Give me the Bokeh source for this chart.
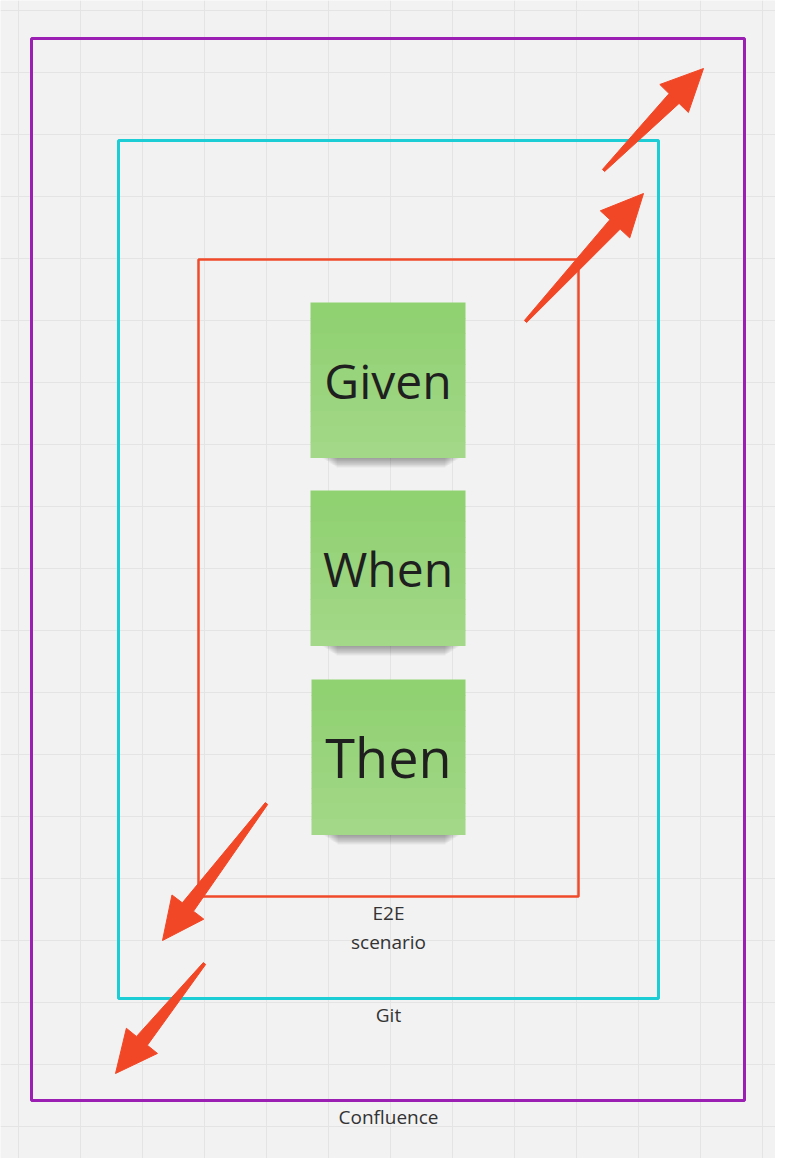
import numpy as np
from bokeh.plotting import figure
from bokeh.models import Range1d
from bokeh.core.properties import value
from bokeh.embed import file_html
from bokeh.resources import INLINE

# frames (left, right, top, bottom) in page pixels
frame_names = ["Confluence", "Git", "E2E scenario"]
frame_left = [31, 118, 198]
frame_right = [744, 658, 578]
frame_top = [38, 140, 259]
frame_bottom = [1100, 998, 896]
frame_colors = ["#9b1fb3", "#1ccdd6", "#f04a2b"]
frame_widths = [3, 3, 2.5]

# sticky notes
notes = ["Given", "When", "Then"]
note_left = [310, 310, 311]
note_right = [465, 465, 465]
note_top = [302, 490, 679]
note_bottom = [457, 645, 834]
note_sizes = ["48px", "48px", "54px"]

# frame labels
label_text = ["E2E", "scenario", "Git", "Confluence"]
label_x = [388, 388, 388, 388]
label_y = [912, 941, 1014, 1116]

# arrows: tail -> head
arrow_x0 = [603, 525, 266, 204]
arrow_y0 = [170, 321, 803, 963]
arrow_x1 = [703, 643, 162, 115]
arrow_y1 = [68, 193, 940, 1073]

p = figure(width=775, height=1158, output_backend="svg", toolbar_location=None,
           x_range=Range1d(0, 775), y_range=Range1d(1158, 0),
           min_border=0, background_fill_color="#f2f2f2", border_fill_color="#f2f2f2",
           outline_line_color=None)
p.axis.visible = False
p.grid.visible = False

gx = np.arange(18, 790, 62)
gy = np.arange(10, 1170, 62)
p.segment(x0=gx, y0=0, x1=gx, y1=1174, line_color="#e4e4e4", line_width=1)
p.segment(x0=0, y0=gy, x1=791, y1=gy, line_color="#e4e4e4", line_width=1)

for l, r, t, b, c, w in zip(frame_left, frame_right, frame_top, frame_bottom, frame_colors, frame_widths):
    p.quad(left=l, right=r, top=t, bottom=b, fill_color=None, line_color=c, line_width=w)

top_c = np.array([0x90, 0xd1, 0x71])
bot_c = np.array([0xa2, 0xd8, 0x88])
for l, r, t, b, name, fs in zip(note_left, note_right, note_top, note_bottom, notes, note_sizes):
    # soft shadow
    for k in range(8):
        p.quad(left=l + 12 + k * 2, right=r - 6 - k * 2, top=b - 4, bottom=b + 1 + k * 1.3,
               fill_color="#000000", fill_alpha=0.05, line_color=None)
    h = (b - t) / 10
    for k in range(10):
        c = top_c + (bot_c - top_c) * k / 9
        p.quad(left=l, right=r, top=t + k * h, bottom=t + (k + 1) * h + 0.5,
               fill_color="#%02x%02x%02x" % tuple(int(v) for v in c), line_color=None)
    p.text(x=[(l + r) / 2], y=[(t + b) / 2], text=[name], text_align="center",
           text_baseline="middle", text_font=value("Open Sans"), text_font_size=fs,
           text_color="#1f1f1f")

p.text(x=label_x, y=label_y, text=label_text, text_align="center", text_baseline="middle",
       text_font=value("Open Sans"), text_font_size="19px", text_color="#333333")

xs, ys = [], []
for x0, y0, x1, y1 in zip(arrow_x0, arrow_y0, arrow_x1, arrow_y1):
    d = np.array([x1 - x0, y1 - y0], dtype=float)
    u = d / np.hypot(*d)
    n = np.array([-u[1], u[0]])
    a = np.array([x0, y0], float)
    tip = np.array([x1, y1], float)
    base = tip - u * 42
    pts = [a + n * 1.5, base + n * 7, base + n * 20, tip, base - n * 20, base - n * 7, a - n * 1.5]
    xs.append([q[0] for q in pts])
    ys.append([q[1] for q in pts])
p.patches(xs, ys, fill_color="#f24726", line_color="#f24726", line_width=1, line_join="round")

open("out.html", "w").write(file_html(p, INLINE))
